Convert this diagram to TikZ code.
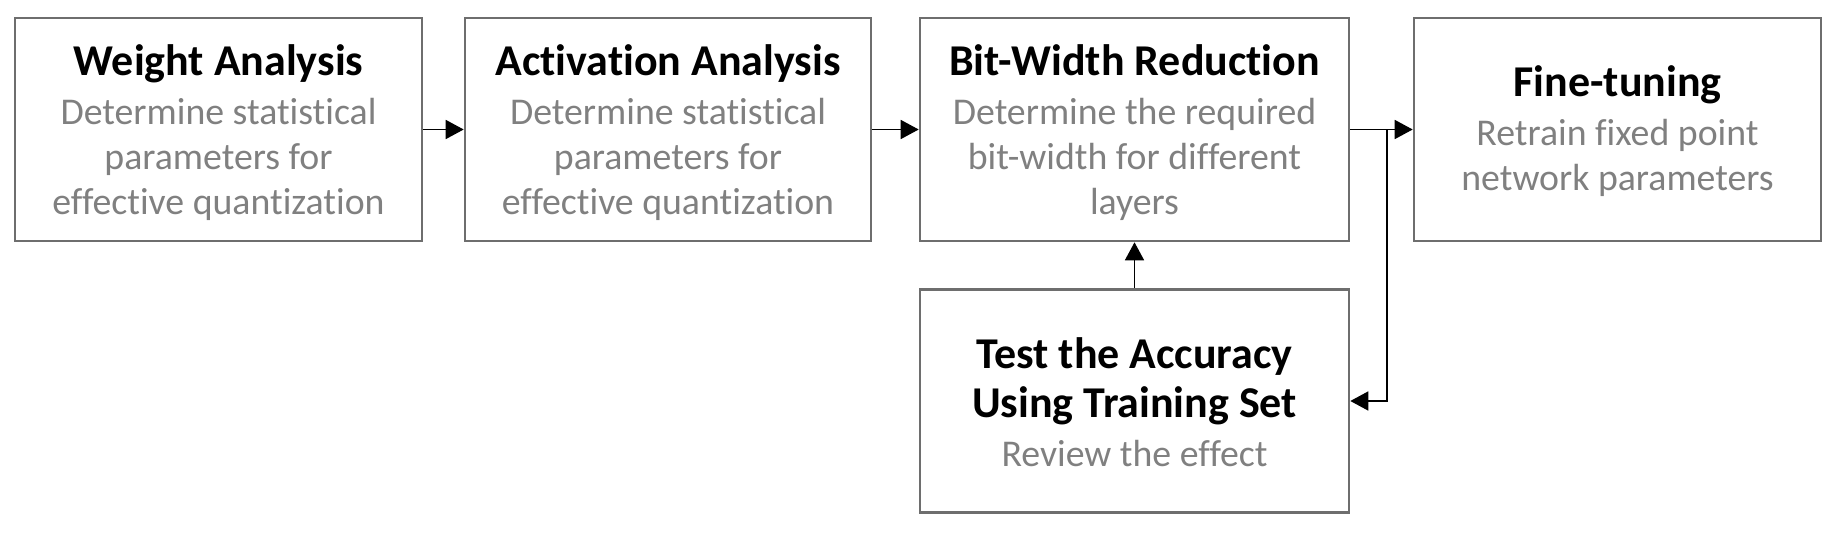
\documentclass[tikz,border=0pt]{standalone}
\usepackage{fontspec}
\setmainfont{Carlito}[Ligatures=NoCommon]
\usetikzlibrary{arrows.meta,calc}
\definecolor{boxline}{RGB}{110,110,110}
\definecolor{bodygray}{RGB}{128,128,128}
\newcommand{\ttlfont}{\bfseries\fontsize{22}{25}\selectfont\color{black}}
\tikzset{
  stagebox/.style={draw=boxline, line width=1.3pt, rectangle,
    minimum height=111.5pt, inner sep=0pt},
  stagetext/.style={align=center, inner sep=0pt,
    font=\fontsize{18.9}{22.5}\selectfont, text=bodygray},
  arr/.style={draw=black, line width=0.8pt, -{Triangle[length=9pt,width=9.5pt]}}
}
\begin{document}
\begin{tikzpicture}[x=0.5pt,y=-0.5pt]
\useasboundingbox (0,0) rectangle (1836,534);
\node[stagebox, minimum width=203.5pt] (b1) at (218.5,129.5) {};
\node[stagebox, minimum width=203pt] (b2) at (668,129.5) {};
\node[stagebox, minimum width=214.5pt] (b3) at (1134.5,129.5) {};
\node[stagebox, minimum width=203.5pt] (b4) at (1617.5,129.5) {};
\node[stagebox, minimum width=214.5pt] (b5) at (1134.5,401) {};
\node[stagetext] (t1) at ($(b1.center)+(0,3)$)
  {{\ttlfont Weight Analysis}\\[2pt]Determine statistical\\parameters for\\effective quantization};
\node[stagetext] (t2) at ($(b2.center)+(0,3)$)
  {{\ttlfont Activation Analysis}\\[2pt]Determine statistical\\parameters for\\effective quantization};
\node[stagetext] (t3) at ($(b3.center)+(0,3)$)
  {{\ttlfont Bit-Width Reduction}\\[2pt]Determine the required\\bit-width for different\\layers};
\node[stagetext] (t4) at ($(b4.center)+(0,2)$)
  {{\ttlfont Fine-tuning}\\[2pt]Retrain fixed point\\network parameters};
\node[stagetext] (t5) at ($(b5.center)+(0,1)$)
  {{\ttlfont Test the Accuracy}\\[2pt]{\ttlfont Using Training Set}\\[2pt]Review the effect};
\coordinate (br) at ($(b3.east)!0.585!(b4.west)$);
\draw[arr] (b1.east) -- (b2.west);
\draw[arr] (b2.east) -- (b3.west);
\draw[arr] (b3.east) -- (b4.west);
\draw[arr] (br) |- (b5.east);
\draw[arr] (b5.north) -- (b3.south);
\end{tikzpicture}
\end{document}
